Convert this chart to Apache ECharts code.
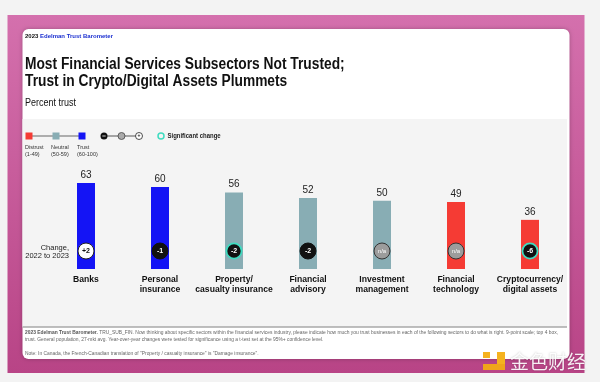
<!DOCTYPE html>
<html><head><meta charset="utf-8">
<script src="https://cdn.jsdelivr.net/npm/echarts@6/dist/echarts.min.js"></script>
<style>html,body{margin:0;padding:0;background:#f3f3f3}#c{width:600px;height:382px}</style>
</head><body><div id="c"></div>
<script>
const categories = ['Banks', 'Personal\ninsurance', 'Property/\ncasualty insurance', 'Financial\nadvisory', 'Investment\nmanagement', 'Financial\ntechnology', 'Cryptocurrency/\ndigital assets'];
const trustValues = [63, 60, 56, 52, 50, 49, 36];
const changeLabels = ['+2', '-1', '-2', '-2', 'n/a', 'n/a', '-6'];
const significant = [false, false, true, false, false, false, true];
const yTicks = [0, 100];

const RED = '#f53b34', TEAL = '#88adb4', BLUE = '#1414f5', RING = '#3fdcc0';
function barColor(v) { return v < 50 ? RED : (v < 60 ? TEAL : BLUE); }
const FONT = '"Liberation Sans", Arial, sans-serif';

const chart = echarts.init(document.getElementById('c'), null, {renderer: 'canvas'});

const graphics = [
  {type: 'rect', z: -20, shape: {x: 7.5, y: 15, width: 577, height: 358},
   style: {fill: new echarts.graphic.LinearGradient(0, 0, 0, 1, [{offset: 0, color: '#d470ad'}, {offset: 1, color: '#b84486'}])}},
  {type: 'rect', z: -19, shape: {x: 22.5, y: 29, width: 547, height: 330, r: 6},
   style: {fill: '#ffffff', shadowBlur: 4, shadowColor: 'rgba(0,0,0,0.25)'}},
  {type: 'rect', z: -18, shape: {x: 22.5, y: 119, width: 544.5, height: 208}, style: {fill: '#f4f4f4'}},
  {type: 'line', z: -17, shape: {x1: 22.5, y1: 327, x2: 567, y2: 327}, style: {stroke: '#a9a9a9', lineWidth: 1.5}},
  {type: 'text', x: 25, y: 36, style: {text: '{a|2023 }{b|Edelman Trust Barometer}', verticalAlign: 'middle',
    rich: {a: {fontSize: 6, fontWeight: 'bold', fill: '#111', fontFamily: FONT}, b: {fontSize: 6, fontWeight: 'bold', fill: '#1b2fd0', fontFamily: FONT}}}},
  {type: 'text', x: 25, y: 56, scaleX: 0.86, style: {text: 'Most Financial Services Subsectors Not Trusted;\nTrust in Crypto/Digital Assets Plummets',
    font: 'bold 16px ' + FONT, lineHeight: 17, fill: '#111'}},
  {type: 'text', x: 25, y: 103, scaleX: 0.9, style: {text: 'Percent trust', font: '10px ' + FONT, fill: '#111', verticalAlign: 'middle'}},
  {type: 'line', shape: {x1: 29, y1: 136, x2: 82, y2: 136}, style: {stroke: '#666', lineWidth: 1}},
  {type: 'rect', shape: {x: 25.5, y: 132.5, width: 7, height: 7}, style: {fill: RED}},
  {type: 'rect', shape: {x: 52.5, y: 132.5, width: 7, height: 7}, style: {fill: TEAL}},
  {type: 'rect', shape: {x: 78.5, y: 132.5, width: 7, height: 7}, style: {fill: BLUE}},
  {type: 'text', x: 25, y: 144, style: {text: 'Distrust\n(1-49)', font: '5.5px ' + FONT, lineHeight: 7, fill: '#333'}},
  {type: 'text', x: 51, y: 144, style: {text: 'Neutral\n(50-59)', font: '5.5px ' + FONT, lineHeight: 7, fill: '#333'}},
  {type: 'text', x: 77, y: 144, style: {text: 'Trust\n(60-100)', font: '5.5px ' + FONT, lineHeight: 7, fill: '#333'}},
  {type: 'line', shape: {x1: 104, y1: 136, x2: 139, y2: 136}, style: {stroke: '#555', lineWidth: 1}},
  {type: 'circle', shape: {cx: 104, cy: 136, r: 3.5}, style: {fill: '#111'}},
  {type: 'line', shape: {x1: 102.3, y1: 136, x2: 105.7, y2: 136}, style: {stroke: '#fff', lineWidth: 0.8}},
  {type: 'circle', shape: {cx: 121.5, cy: 136, r: 3.5}, style: {fill: '#aaa', stroke: '#444', lineWidth: 0.8}},
  {type: 'circle', shape: {cx: 139, cy: 136, r: 3.5}, style: {fill: '#fff', stroke: '#222', lineWidth: 0.8}},
  {type: 'text', x: 139, y: 136, style: {text: '+', font: 'bold 5px ' + FONT, fill: '#111', align: 'center', verticalAlign: 'middle'}},
  {type: 'circle', shape: {cx: 161, cy: 136, r: 3}, style: {fill: 'none', stroke: RING, lineWidth: 1.5}},
  {type: 'text', x: 167.5, y: 136, scaleX: 0.92, style: {text: 'Significant change', font: 'bold 6.5px ' + FONT, fill: '#222', verticalAlign: 'middle'}},
  {type: 'text', x: 69, y: 252, style: {text: 'Change,\n2022 to 2023', font: '7.5px ' + FONT, lineHeight: 8, fill: '#222', align: 'right', verticalAlign: 'middle'}},
  {type: 'text', x: 25, y: 336, style: {text: '{b|2023 Edelman Trust Barometer.} TRU_SUB_FIN. Now thinking about specific sectors within the financial services industry, please indicate how much you trust businesses in each of the following sectors to do what is right. 9-point scale; top 4 box,\ntrust. General population, 27-mkt avg. Year-over-year changes were tested for significance using a t-test set at the 95%+ confidence level.',
    font: '4.9px ' + FONT, lineHeight: 7, fill: '#666', verticalAlign: 'middle', rich: {b: {fontWeight: 'bold', fontSize: 4.9, fill: '#555', fontFamily: FONT}}}},
  {type: 'text', x: 25, y: 354, style: {text: 'Note: In Canada, the French-Canadian translation of "Property / casualty insurance" is "Damage insurance".',
    font: '4.9px ' + FONT, fill: '#666', verticalAlign: 'middle'}},
  {type: 'rect', z: 10, shape: {x: 483, y: 352, width: 7, height: 6}, style: {fill: '#f5b21f'}},
  {type: 'rect', z: 10, shape: {x: 497, y: 352, width: 8, height: 18}, style: {fill: '#f5b21f'}},
  {type: 'rect', z: 10, shape: {x: 483, y: 364, width: 22, height: 6}, style: {fill: '#f0a51a'}},
  {type: 'text', z: 10, x: 510, y: 362, style: {text: '金色财经', font: '19px "Noto Sans CJK SC", sans-serif', fill: 'rgba(255,255,255,0.92)',
    verticalAlign: 'middle', textShadowColor: 'rgba(0,0,0,0.25)', textShadowBlur: 2}}
];

chart.setOption({
  backgroundColor: '#f3f3f3',
  animation: false,
  grid: {left: 49, right: 33, top: 132.5, bottom: 113},
  xAxis: {
    type: 'category', data: categories,
    axisLine: {show: false}, axisTick: {show: false},
    axisLabel: {interval: 0, margin: 6, fontFamily: FONT, fontSize: 8.6, fontWeight: 'bold', lineHeight: 9.5, color: '#111'}
  },
  yAxis: {type: 'value', min: yTicks[0], max: yTicks[1], show: false, splitLine: {show: false}},
  series: [
    {
      type: 'bar', barWidth: 18, z: 2,
      data: trustValues.map(v => ({value: v, itemStyle: {color: barColor(v)}})),
      label: {show: true, position: 'top', distance: 3, fontFamily: FONT, fontSize: 10, color: '#222'}
    },
    {
      type: 'custom', z: 5,
      data: changeLabels.map((c, i) => [i, 0]),
      renderItem: function (params, api) {
        const i = params.dataIndex;
        const p = api.coord([api.value(0), 0]);
        const cx = p[0], cy = p[1] - 18;
        const lab = changeLabels[i];
        const na = lab === 'n/a';
        const pos = lab.charAt(0) === '+';
        const fill = na ? '#9c9c9c' : (pos ? '#ffffff' : '#111111');
        const stroke = significant[i] ? RING : (na ? '#333' : (pos ? '#222' : '#111'));
        return {
          type: 'group', children: [
            {type: 'circle', shape: {cx: cx, cy: cy, r: significant[i] ? 7.6 : 8},
             style: {fill: fill, stroke: stroke, lineWidth: significant[i] ? 1.8 : 1}},
            {type: 'text', x: cx, y: cy, style: {text: lab, align: 'center', verticalAlign: 'middle',
              font: (na ? '' : 'bold ') + (na ? '6px ' : '7px ') + FONT, fill: pos ? '#111' : '#fff'}}
          ]
        };
      }
    }
  ],
  graphic: graphics
});
</script></body></html>
